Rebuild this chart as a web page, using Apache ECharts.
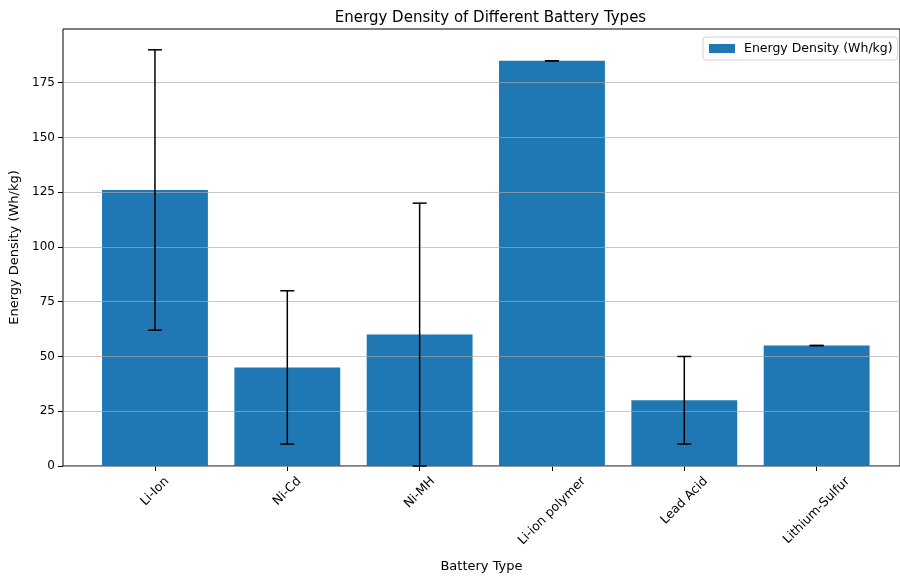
<!DOCTYPE html>
<html>
<head>
<meta charset="utf-8">
<script src="https://cdn.jsdelivr.net/npm/echarts@6/dist/echarts.min.js"></script>
<style>html,body{margin:0;padding:0;background:#fff}#c{width:900px;height:578px}</style>
</head>
<body>
<div id="c"></div>
<script>
const categories = ['Li-Ion', 'Ni-Cd', 'Ni-MH', 'Li-ion polymer', 'Lead Acid', 'Lithium-Sulfur'];
const energyDensity = [126, 45, 60, 185, 30, 55];
const errorValues = [64, 35, 60, 0, 20, 0];
const yTicks = [0, 25, 50, 75, 100, 125, 150, 175];
const yTickStep = 25;
const yMax = 199.5;
const seriesName = 'Energy Density (Wh/kg)';
const chartTitle = 'Energy Density of Different Battery Types';
const xName = 'Battery Type';
const yName = 'Energy Density (Wh/kg)';

const FONT = 'DejaVu Sans';
const LABEL_SIZE = 12.5;
const ctx = document.createElement('canvas').getContext('2d');
ctx.font = LABEL_SIZE + 'px "' + FONT + '"';

const chart = echarts.init(document.getElementById('c'), null, {renderer: 'canvas'});

const gridTop = 29, gridBottom = 112;
const option = {
  animation: false,
  backgroundColor: '#fff',
  title: {
    text: chartTitle, left: 485.5, top: 6, textAlign: 'center',
    textStyle: {fontFamily: FONT, fontSize: 15, fontWeight: 'normal', color: '#000'}
  },
  legend: {
    data: [seriesName], left: 703, top: 37, orient: 'vertical',
    icon: 'rect', itemWidth: 26, itemHeight: 9,
    padding: [5, 5, 5, 6], borderColor: '#d0d0d0', borderWidth: 1, borderRadius: 3,
    backgroundColor: 'rgba(255,255,255,0.8)',
    textStyle: {fontFamily: FONT, fontSize: 12.5, color: '#000', padding: [0, 0, 0, 4]}
  },
  grid: [
    {left: 63, top: gridTop, right: -8, bottom: gridBottom, show: true, borderColor: '#000', borderWidth: 1, backgroundColor: 'transparent'},
    {left: 88.8, top: gridTop, width: 794, bottom: gridBottom}
  ],
  xAxis: [
    {type: 'value', gridIndex: 0, min: -0.69, max: 5.69, show: true, position: 'bottom',
     axisLine: {show: false, onZero: false}, axisTick: {show: false}, axisLabel: {show: false}, splitLine: {show: false},
     name: xName, nameLocation: 'middle', nameGap: 94,
     nameTextStyle: {fontFamily: FONT, fontSize: 13, color: '#000'}},
    {type: 'category', gridIndex: 1, data: categories, position: 'bottom',
     axisLine: {show: false, onZero: false},
     axisTick: {show: true, alignWithLabel: true, length: 5, lineStyle: {color: '#000', width: 1}},
     axisLabel: {show: false}, splitLine: {show: false}}
  ],
  yAxis: [
    {type: 'value', gridIndex: 0, min: 0, max: yMax, interval: yTickStep, z: 3, position: 'left',
     axisLine: {show: false, onZero: false},
     axisTick: {show: true, length: 5, lineStyle: {color: '#000', width: 1}, customValues: yTicks},
     axisLabel: {fontFamily: FONT, fontSize: 12, color: '#000', margin: 8, customValues: yTicks},
     splitLine: {show: true, lineStyle: {color: 'rgba(170,170,170,0.65)', width: 1}},
     name: yName, nameLocation: 'middle', nameGap: 38, nameRotate: 90,
     nameTextStyle: {fontFamily: FONT, fontSize: 13, color: '#000'}},
    {type: 'value', gridIndex: 1, min: 0, max: yMax, show: false, splitLine: {show: false},
     axisLine: {onZero: false}}
  ],
  series: [
    {
      name: seriesName, type: 'bar', xAxisIndex: 1, yAxisIndex: 1,
      data: energyDensity, barWidth: '80%', z: 2,
      itemStyle: {color: '#1f77b4'}
    },
    {
      type: 'custom', xAxisIndex: 1, yAxisIndex: 1, z: 5, silent: true,
      data: energyDensity.map((v, i) => [i, v, v - errorValues[i], v + errorValues[i]]),
      renderItem: function (params, api) {
        const i = api.value(0);
        const lo = api.coord([i, api.value(2)]);
        const hi = api.coord([i, api.value(3)]);
        const cap = 7;
        const st = {stroke: '#000', lineWidth: 1.5};
        return {type: 'group', children: [
          {type: 'line', shape: {x1: lo[0], y1: lo[1], x2: hi[0], y2: hi[1]}, style: st},
          {type: 'line', shape: {x1: lo[0] - cap, y1: lo[1], x2: lo[0] + cap, y2: lo[1]}, style: st},
          {type: 'line', shape: {x1: hi[0] - cap, y1: hi[1], x2: hi[0] + cap, y2: hi[1]}, style: st}
        ]};
      }
    },
    {
      type: 'custom', xAxisIndex: 1, yAxisIndex: 1, z: 5, silent: true, clip: false,
      data: categories.map((c, i) => [i, 0]),
      renderItem: function (params, api) {
        const i = api.value(0);
        const p = api.coord([i, 0]);
        const text = categories[i];
        const w = ctx.measureText(text).width;
        const h = (w + LABEL_SIZE) * Math.SQRT1_2;
        return {
          type: 'text', x: p[0], y: p[1] + 9 + h / 2, rotation: Math.PI / 4,
          style: {text: text, x: 0, y: 0, align: 'center', verticalAlign: 'middle',
                  font: LABEL_SIZE + 'px "' + FONT + '"', fill: '#000'}
        };
      }
    }
  ]
};
chart.setOption(option);
</script>
</body>
</html>
